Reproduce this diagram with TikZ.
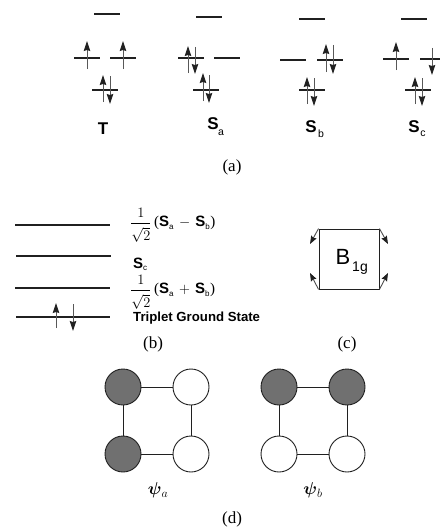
\documentclass[tikz,border=0pt]{standalone}
\usepackage{amsmath}
\usepackage[no-math]{fontspec}
\setmainfont{Liberation Serif}
\setsansfont{Liberation Sans}
\usetikzlibrary{arrows.meta}
\definecolor{ink}{HTML}{202020}
\definecolor{orbital}{HTML}{707070}
\tikzset{
  level/.style={draw=ink,line width=1.6pt},
  thin level/.style={draw=ink,line width=1.4pt},
  spin/.style={draw=ink!75,line width=0.9pt,-{Stealth[length=10pt,width=6.5pt,inset=1pt,color=ink]}},
  mode/.style={draw=ink!80,line width=0.9pt,-{Stealth[length=8pt,width=6pt,inset=1pt,color=ink]}},
  lab/.style={inner sep=0pt,font=\fontsize{17}{19}\selectfont},
  state/.style={inner sep=0pt,font=\fontsize{17}{19}\selectfont\sffamily\bfseries},
  sub/.style={inner sep=0pt,font=\fontsize{10.5}{12}\selectfont\sffamily},
  expr/.style={inner sep=0pt,anchor=west,font=\fontsize{15}{17}\selectfont},
  site/.style={circle,draw=ink,line width=0.9pt,minimum size=36pt,inner sep=0pt},
  full/.style={site,fill=orbital},
  empty/.style={site,fill=white},
  bond/.style={draw=ink,line width=0.9pt}
}
\newcommand{\bS}{\textsf{\textbf{S}}}
\newcommand{\ssub}[1]{\textsf{\fontsize{8}{9}\selectfont #1}}
\newcommand{\rfrac}{$\dfrac{1}{\rule{0pt}{15pt}\sqrt{2}}$}
\begin{document}
\begin{tikzpicture}[x=1pt,y=-1pt]
\useasboundingbox (0,0) rectangle (439,527);
% T
\draw[level] (94,14) -- (120,14);
\draw[level] (74,58) -- (100,58);
\draw[level] (110,58) -- (136,58);
\draw[level] (92,90) -- (118,90);
\draw[spin] (87,69) -- (87,41);
\draw[spin] (123,69) -- (123,41);
\draw[spin] (103,102) -- (103,75);
\draw[spin] (110,76) -- (110,104);
\node[state] (lT) at (103,129) {T};
% Sa
\draw[level] (196,17) -- (222,17);
\draw[level] (178,58) -- (204,58);
\draw[level] (214,58) -- (240,58);
\draw[level] (193,90) -- (219,90);
\draw[spin] (188,73) -- (188,46);
\draw[spin] (195,47) -- (195,74);
\draw[spin] (203,101) -- (203,73);
\draw[spin] (209,75) -- (209,103);
\node[state] (lSa) at (213,124) {S};
\node[sub] (lSas) at (221,133) {a};
% Sb
\draw[level] (299,19) -- (325,19);
\draw[level] (280,60) -- (306,60);
\draw[level] (317,60) -- (343,60);
\draw[level] (299,90) -- (325,90);
\draw[spin] (326,72) -- (326,44);
\draw[spin] (333,45) -- (333,74);
\draw[spin] (307,104) -- (307,77);
\draw[spin] (314,78) -- (314,106);
\node[state] (lSb) at (311,127) {S};
\node[sub] (lSbs) at (321,134) {b};
% Sc
\draw[level] (401,19) -- (427,19);
\draw[level] (383,59) -- (409,59);
\draw[level] (420,59) -- (446,59);
\draw[level] (405,90) -- (431,90);
\draw[spin] (396,70) -- (396,42);
\draw[spin] (432,48) -- (432,75);
\draw[spin] (415,104) -- (415,77);
\draw[spin] (422,78) -- (422,106);
\node[state] (lSc) at (414,127) {S};
\node[sub] (lScs) at (423,134) {c};
\node[lab] (capa) at (232,167) {(a)};
% (b)
\draw[thin level] (15,225) -- (110,225);
\draw[thin level] (16,256) -- (111,256);
\draw[thin level] (15,288) -- (110,288);
\draw[thin level] (16,317) -- (110,317);
\draw[spin] (56,328) -- (56,303);
\draw[spin] (73,304) -- (73,331);
\node[expr] (e1) at (130,225) {\rfrac\,(\bS$_{\ssub{a}}$\,\,$-$\,\,\bS$_{\ssub{b}}$)};
\node[expr] (e2) at (133,264) {\bS$_{\ssub{c}}$};
\node[expr] (e3) at (130,292) {\rfrac\,(\bS$_{\ssub{a}}$\,\,$+$\,\,\bS$_{\ssub{b}}$)};
\node[expr,font=\fontsize{13.2}{15}\selectfont\sffamily\bfseries] (e4) at (133,318) {Triplet Ground State};
\node[lab] (capb) at (153,344) {(b)};
% (c)
\node[minimum size=60pt,inner sep=0pt,draw=ink,line width=0.9pt] (sq) at (349,259) {};
\node[inner sep=0pt,font=\fontsize{22}{24}\selectfont\sffamily] (B) at (343,257) {B};
\node[inner sep=0pt,font=\fontsize{14}{16}\selectfont\sffamily] (Bs) at (360,268) {1g};
\coordinate (tl) at (310,244);
\coordinate (tr) at (388,244);
\coordinate (bl) at (310,273);
\coordinate (br) at (388,273);
\draw[mode] (sq.north west) -- (tl);
\draw[mode] (sq.north east) -- (tr);
\draw[mode] (sq.south west) -- (bl);
\draw[mode] (sq.south east) -- (br);
\node[lab] (capc) at (347,344) {(c)};
% (d)
\node[full] (a1) at (123,387) {};
\node[empty] (a2) at (191,387) {};
\node[full] (a3) at (123,454) {};
\node[empty] (a4) at (191,454) {};
\draw[bond] (a1) -- (a2);
\draw[bond] (a2) -- (a4);
\draw[bond] (a4) -- (a3);
\draw[bond] (a3) -- (a1);
\node[full] (b1) at (279,387) {};
\node[full] (b2) at (347,387) {};
\node[empty] (b3) at (279,454) {};
\node[empty] (b4) at (347,454) {};
\draw[bond] (b1) -- (b2);
\draw[bond] (b2) -- (b4);
\draw[bond] (b4) -- (b3);
\draw[bond] (b3) -- (b1);
\node[lab] (pa) at (158,490) {$\boldsymbol{\psi}_{a}$};
\node[lab] (pb) at (313,490) {$\boldsymbol{\psi}_{b}$};
\node[lab] (capd) at (232,519) {(d)};
\end{tikzpicture}
\end{document}
